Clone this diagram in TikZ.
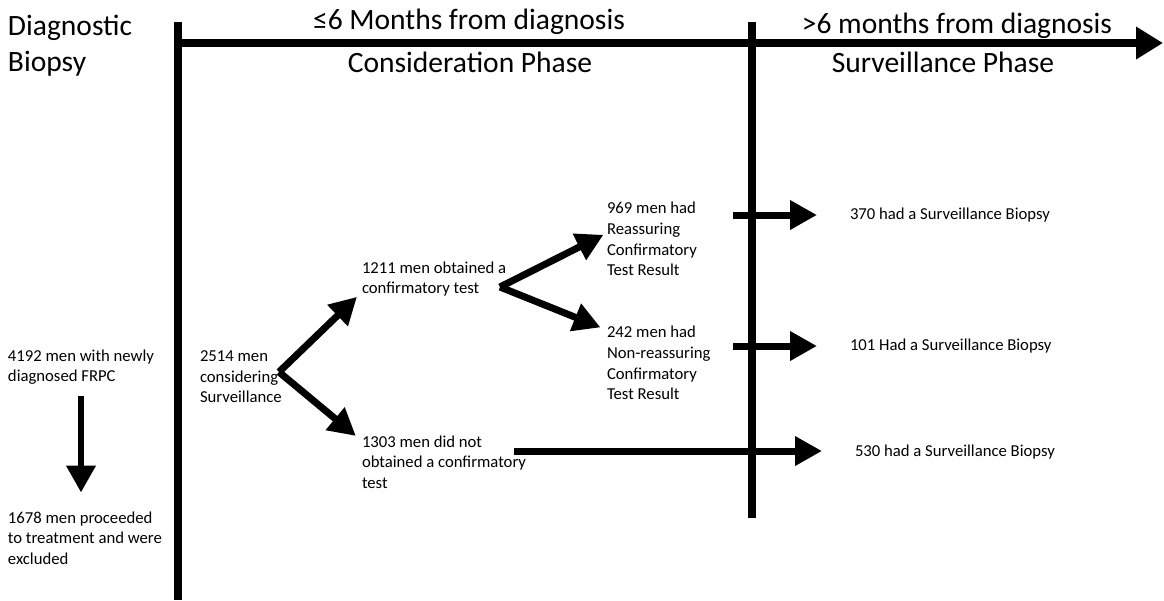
\documentclass[tikz,border=0pt]{standalone}
\usepackage{fontspec}
\setmainfont{Carlito}
\usetikzlibrary{arrows.meta}
\begin{document}
\begin{tikzpicture}[x=0.02cm, y=-0.02cm,
		txt/.style={anchor=west, align=left, inner sep=0pt, outer sep=0pt, font=\fontsize{9.5}{11.7}\selectfont},
		head/.style={inner sep=0pt, outer sep=0pt, font=\fontsize{16.8}{21.5}\selectfont},
		fat/.style={line width=.14cm, -{Triangle[length=.54cm, width=.56cm]}},
		bar/.style={line width=.15cm}]
			\useasboundingbox (0,0) rectangle (1164,600);
			% time line
			\node[head, anchor=west, align=left] (diag) at (8,46) {Diagnostic\\[-1pt]Biopsy};
			\node[head] (le6) at (469,22) {≤6 Months from diagnosis};
			\node[head] (cons) at (470,62) {Consideration Phase};
			\node[head] (gt6) at (957,26) {>6 months from diagnosis};
			\node[head] (surv) at (943,62) {Surveillance Phase};
			\coordinate (cut0) at (178,22);
			\coordinate (cut0b) at (178,600);
			\coordinate (cut1) at (752,22);
			\coordinate (cut1b) at (752,518);
			\coordinate (axis0) at (178,43);
			\coordinate (axis1) at (1163,43);
			\draw[bar] (cut0) -- (cut0b);
			\draw[bar] (cut1) -- (cut1b);
			\draw[fat, line width=.15cm, -{Triangle[length=.54cm, width=.62cm]}] (axis0) -- (axis1);

			% cohorts
			\node[txt] (n4192) at (8,367) {4192 men with newly\\diagnosed FRPC};
			\node[txt] (n1678) at (8,538) {1678 men proceeded\\to treatment and were\\excluded};
			\node[txt] (n2514) at (200,377) {2514 men\\considering\\Surveillance};
			\node[txt] (n1211) at (362,279) {1211 men obtained a\\confirmatory test};
			\node[txt] (n1303) at (362,462) {1303 men did not\\obtained a confirmatory\\test};
			\node[txt] (n969) at (607,239) {969 men had\\Reassuring\\Confirmatory\\Test Result};
			\node[txt] (n242) at (607,363) {242 men had\\Non-reassuring\\Confirmatory\\Test Result};
			\node[txt] (n370) at (850,215) {370 had a Surveillance Biopsy};
			\node[txt] (n101) at (850,346) {101 Had a Surveillance Biopsy};
			\node[txt] (n530) at (855,452) {530 had a Surveillance Biopsy};

			\coordinate (split1) at (279,372);
			\coordinate (split2) at (500,287);
			\coordinate (go370) at (733,215);
			\coordinate (go101) at (733,346);
			\coordinate (go530) at (514,451);

			\draw[fat, shorten <=.22cm, shorten >=.38cm] (n4192.south) -- (n4192.south |- n1678.north);
			\draw[fat, shorten >=.14cm] (split1) -- ([yshift=-.26cm]n1211.west);
			\draw[fat, shorten >=.16cm] (split1) -- ([yshift=.42cm]n1303.west);
			\draw[fat, shorten >=.08cm] (split2) -- ([yshift=.12cm]n969.west);
			\draw[fat, shorten >=.14cm] (split2) -- ([yshift=.66cm]n242.west);
			\foreach \i in {370, 101, 530}
				{
					\draw[fat, shorten >=.66cm] (go\i) -- (go\i -| n\i.west);
				}
		\end{tikzpicture}
\end{document}
